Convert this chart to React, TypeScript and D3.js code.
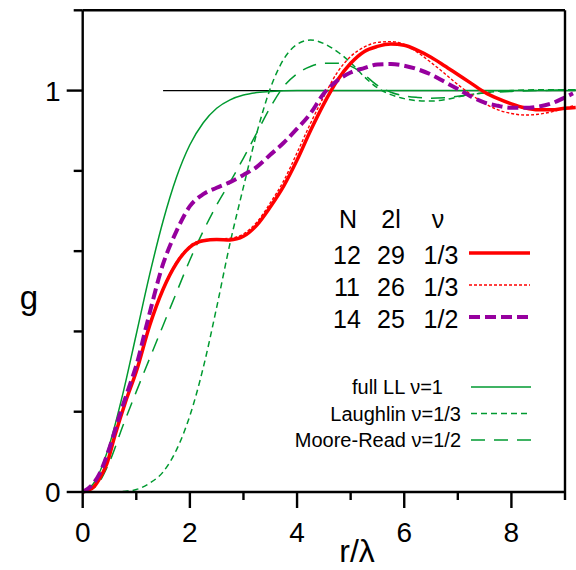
import React from "react";
import * as d3 from "d3";

// ---- data ----
const xTicksMajor = [0, 2, 4, 6, 8];
const xTicksMinor = [1, 3, 5, 7, 9];
const yTicksMajor = [0, 1];
const yTicksMinor = [0.2, 0.4, 0.6, 0.8, 1.2];

const refLine: [number, number][] = [[1.5, 1], [9.2, 1]];

const fullLL: [number, number][] = [
  [0, 0], [0.25, 0.031], [0.5, 0.118], [0.75, 0.245], [1.0, 0.393], [1.25, 0.542],
  [1.5, 0.675], [1.75, 0.784], [2.0, 0.865], [2.25, 0.92], [2.5, 0.956], [2.75, 0.977],
  [3.0, 0.989], [3.25, 0.995], [3.5, 0.998], [4.0, 1.0], [5.0, 1.0], [6.0, 1.0],
  [7.0, 1.0], [8.0, 1.0], [9.2, 1.0],
];

const laughlin: [number, number][] = [
  [0, 0], [0.5, 0.0], [0.8, 0.002], [1.0, 0.006], [1.25, 0.022], [1.5, 0.05],
  [1.75, 0.105], [2.0, 0.19], [2.25, 0.31], [2.5, 0.46], [2.75, 0.62], [3.0, 0.76],
  [3.25, 0.895], [3.5, 1.005], [3.75, 1.078], [4.0, 1.115], [4.25, 1.126], [4.5, 1.117],
  [4.75, 1.097], [5.0, 1.07], [5.25, 1.035], [5.5, 1.007], [5.75, 0.99], [6.0, 0.98],
  [6.25, 0.975], [6.5, 0.974], [6.75, 0.977], [7.0, 0.984], [7.5, 0.995], [8.0, 1.0],
  [8.5, 1.002], [9.2, 1.002],
];

const mooreRead: [number, number][] = [
  [0, 0], [0.25, 0.015], [0.5, 0.075], [0.75, 0.165], [1.0, 0.25], [1.25, 0.333],
  [1.5, 0.415], [1.75, 0.497], [2.0, 0.578], [2.25, 0.65], [2.5, 0.715], [2.75, 0.772],
  [3.0, 0.832], [3.25, 0.895], [3.5, 0.958], [3.75, 1.01], [4.0, 1.042], [4.25, 1.06],
  [4.5, 1.068], [4.75, 1.068], [5.0, 1.061], [5.25, 1.04], [5.5, 1.013], [5.75, 0.996],
  [6.0, 0.987], [6.25, 0.983], [6.5, 0.981], [6.75, 0.982], [7.0, 0.986], [7.5, 0.994],
  [8.0, 0.998], [8.5, 1.0], [9.2, 1.002],
];

const n12: [number, number][] = [
  [0, 0], [0.2, 0.012], [0.3, 0.03], [0.45, 0.07], [0.6, 0.14], [0.8, 0.225],
  [1.0, 0.3], [1.25, 0.415], [1.5, 0.505], [1.75, 0.57], [2.0, 0.61], [2.25, 0.626],
  [2.5, 0.629], [2.75, 0.628], [3.0, 0.637], [3.25, 0.665], [3.5, 0.71], [3.75, 0.762],
  [4.0, 0.827], [4.25, 0.9], [4.5, 0.967], [4.75, 1.025], [5.0, 1.068], [5.25, 1.097],
  [5.5, 1.11], [5.75, 1.116], [6.0, 1.113], [6.25, 1.1], [6.5, 1.083], [6.75, 1.062],
  [7.0, 1.04], [7.25, 1.018], [7.5, 0.996], [7.75, 0.98], [8.0, 0.967], [8.25, 0.957],
  [8.5, 0.952], [8.75, 0.952], [9.0, 0.956], [9.2, 0.958],
];

const n11: [number, number][] = [
  [0, 0], [0.2, 0.012], [0.3, 0.03], [0.45, 0.07], [0.6, 0.14], [0.8, 0.228],
  [1.0, 0.302], [1.25, 0.418], [1.5, 0.508], [1.75, 0.573], [2.0, 0.613], [2.25, 0.628],
  [2.5, 0.63], [2.75, 0.632], [3.0, 0.643], [3.25, 0.672], [3.5, 0.72], [3.75, 0.775],
  [4.0, 0.845], [4.25, 0.918], [4.5, 0.985], [4.75, 1.045], [5.0, 1.085], [5.25, 1.108],
  [5.5, 1.12], [5.75, 1.122], [6.0, 1.115], [6.25, 1.095], [6.5, 1.07], [6.75, 1.043],
  [7.0, 1.015], [7.25, 0.99], [7.5, 0.968], [7.75, 0.952], [8.0, 0.943], [8.25, 0.939],
  [8.5, 0.941], [8.75, 0.947], [9.0, 0.956], [9.15, 0.962],
];

const n14: [number, number][] = [
  [0, 0], [0.17, 0.017], [0.32, 0.047], [0.5, 0.11], [0.7, 0.196], [0.9, 0.275],
  [1.0, 0.315], [1.2, 0.42], [1.5, 0.568], [1.75, 0.65], [2.0, 0.712], [2.25, 0.742],
  [2.5, 0.758], [2.75, 0.772], [3.0, 0.79], [3.25, 0.81], [3.5, 0.84], [3.75, 0.87],
  [4.0, 0.905], [4.25, 0.943], [4.5, 0.993], [4.75, 1.025], [5.0, 1.045], [5.25, 1.056],
  [5.5, 1.065], [5.75, 1.066], [6.0, 1.062], [6.25, 1.053], [6.5, 1.04], [6.75, 1.022],
  [7.0, 1.004], [7.25, 0.985], [7.5, 0.97], [7.75, 0.962], [8.0, 0.957], [8.25, 0.957],
  [8.5, 0.96], [8.75, 0.968], [9.0, 0.983], [9.15, 0.993],
];

const tableHeader = ["N", "2l", "ν"];
const tableRows = [
  ["12", "29", "1/3"],
  ["11", "26", "1/3"],
  ["14", "25", "1/2"],
];
const refLabels = ["full LL ν=1", "Laughlin ν=1/3", "Moore-Read ν=1/2"];

const GREEN = "#009a30";
const RED = "#ff0000";
const PURPLE = "#96009e";

const FONT = "'Liberation Sans', Arial, Helvetica, sans-serif";

export default function App() {
  const x = d3.scaleLinear().domain([0, 9]).range([82.7, 565]);
  const y = d3.scaleLinear().domain([0, 1.2]).range([492, 10.3]);
  const line = d3
    .line<[number, number]>()
    .x((d) => x(d[0]))
    .y((d) => y(d[1]))
    .curve(d3.curveMonotoneX);

  const tableStyles = [
    { stroke: RED, width: 3.5, dash: undefined as string | undefined, data: n12 },
    { stroke: RED, width: 1.4, dash: "3,2", data: n11 },
    { stroke: PURPLE, width: 4, dash: "11,5", data: n14 },
  ];
  const refStyles = [
    { stroke: GREEN, width: 1.5, dash: undefined as string | undefined, data: fullLL },
    { stroke: GREEN, width: 1.5, dash: "6,4", data: laughlin },
    { stroke: GREEN, width: 1.5, dash: "14,9", data: mooreRead },
  ];

  const x0 = x(0);
  const x9 = x(9);
  const yTop = y(1.2);
  const yBot = y(0);

  return (
    <svg
      width={576}
      height={570}
      style={{ position: "absolute", left: 0, top: 0, background: "#fff" }}
      fontFamily={FONT}
    >
      <rect x={0} y={0} width={576} height={570} fill="#fff" />
      {/* reference line */}
      <path d={line(refLine) || ""} fill="none" stroke="#000" strokeWidth={1.2} />
      {/* curves */}
      {refStyles.map((s, i) => (
        <path
          key={"r" + i}
          d={line(s.data) || ""}
          fill="none"
          stroke={s.stroke}
          strokeWidth={s.width}
          strokeDasharray={s.dash}
        />
      ))}
      {[1, 0, 2].map((i) => {
        const s = tableStyles[i];
        return (
          <path
            key={"t" + i}
            d={line(s.data) || ""}
            fill="none"
            stroke={s.stroke}
            strokeWidth={s.width}
            strokeDasharray={s.dash}
          />
        );
      })}

      {/* frame */}
      <g stroke="#000" strokeWidth={2.4} fill="none">
        <line x1={x0} y1={yTop} x2={x0} y2={yBot} />
        <line x1={x0} y1={yBot} x2={x9} y2={yBot} />
        <line x1={x0} y1={yTop} x2={x9} y2={yTop} />
        <line x1={x9} y1={yTop} x2={x9} y2={yBot} />
        {yTicksMajor.map((t) => (
          <line key={"ym" + t} x1={x0 - 16} y1={y(t)} x2={x0} y2={y(t)} />
        ))}
        {yTicksMinor.map((t) => (
          <line key={"yn" + t} x1={x0 - 9} y1={y(t)} x2={x0} y2={y(t)} />
        ))}
        {xTicksMajor.map((t) => (
          <line key={"xm" + t} x1={x(t)} y1={yBot} x2={x(t)} y2={yBot + 16} />
        ))}
        {xTicksMinor.map((t) => (
          <line key={"xn" + t} x1={x(t)} y1={yBot} x2={x(t)} y2={yBot + 8} />
        ))}
      </g>

      {/* tick labels */}
      <g fontSize={28} fill="#000">
        {yTicksMajor.map((t) => (
          <text key={"yl" + t} x={x0 - 22} y={y(t) + 10} textAnchor="end">
            {t}
          </text>
        ))}
        {xTicksMajor.map((t) => (
          <text key={"xl" + t} x={x(t)} y={yBot + 50} textAnchor="middle">
            {t}
          </text>
        ))}
      </g>

      {/* axis labels */}
      <text x={29} y={309} fontSize={33} textAnchor="middle">g</text>
      <text x={357} y={562} fontSize={32} textAnchor="middle">r/λ</text>

      {/* upper legend (table) */}
      <g fontSize={25} fill="#000" textAnchor="middle">
        {tableHeader.map((h, j) => (
          <text key={"h" + j} x={[348, 391, 438][j]} y={228}>{h}</text>
        ))}
        {tableRows.map((row, i) =>
          row.map((c, j) => (
            <text key={"c" + i + j} x={[347, 391, 441][j]} y={264 + i * 32}>{c}</text>
          ))
        )}
      </g>
      {tableStyles.map((s, i) => (
        <line
          key={"tl" + i}
          x1={469}
          x2={530}
          y1={253 + i * 32}
          y2={253 + i * 32}
          stroke={s.stroke}
          strokeWidth={s.width}
          strokeDasharray={s.dash}
        />
      ))}

      {/* lower legend */}
      <g fontSize={20} fill="#000" textAnchor="end">
        {refLabels.map((l, i) => (
          <text key={"rl" + i} x={i === 0 ? 443 : 461} y={394 + i * 26.5}>{l}</text>
        ))}
      </g>
      {refStyles.map((s, i) => (
        <line
          key={"rs" + i}
          x1={471}
          x2={531}
          y1={387 + i * 26.5}
          y2={387 + i * 26.5}
          stroke={s.stroke}
          strokeWidth={s.width}
          strokeDasharray={s.dash}
        />
      ))}
    </svg>
  );
}
